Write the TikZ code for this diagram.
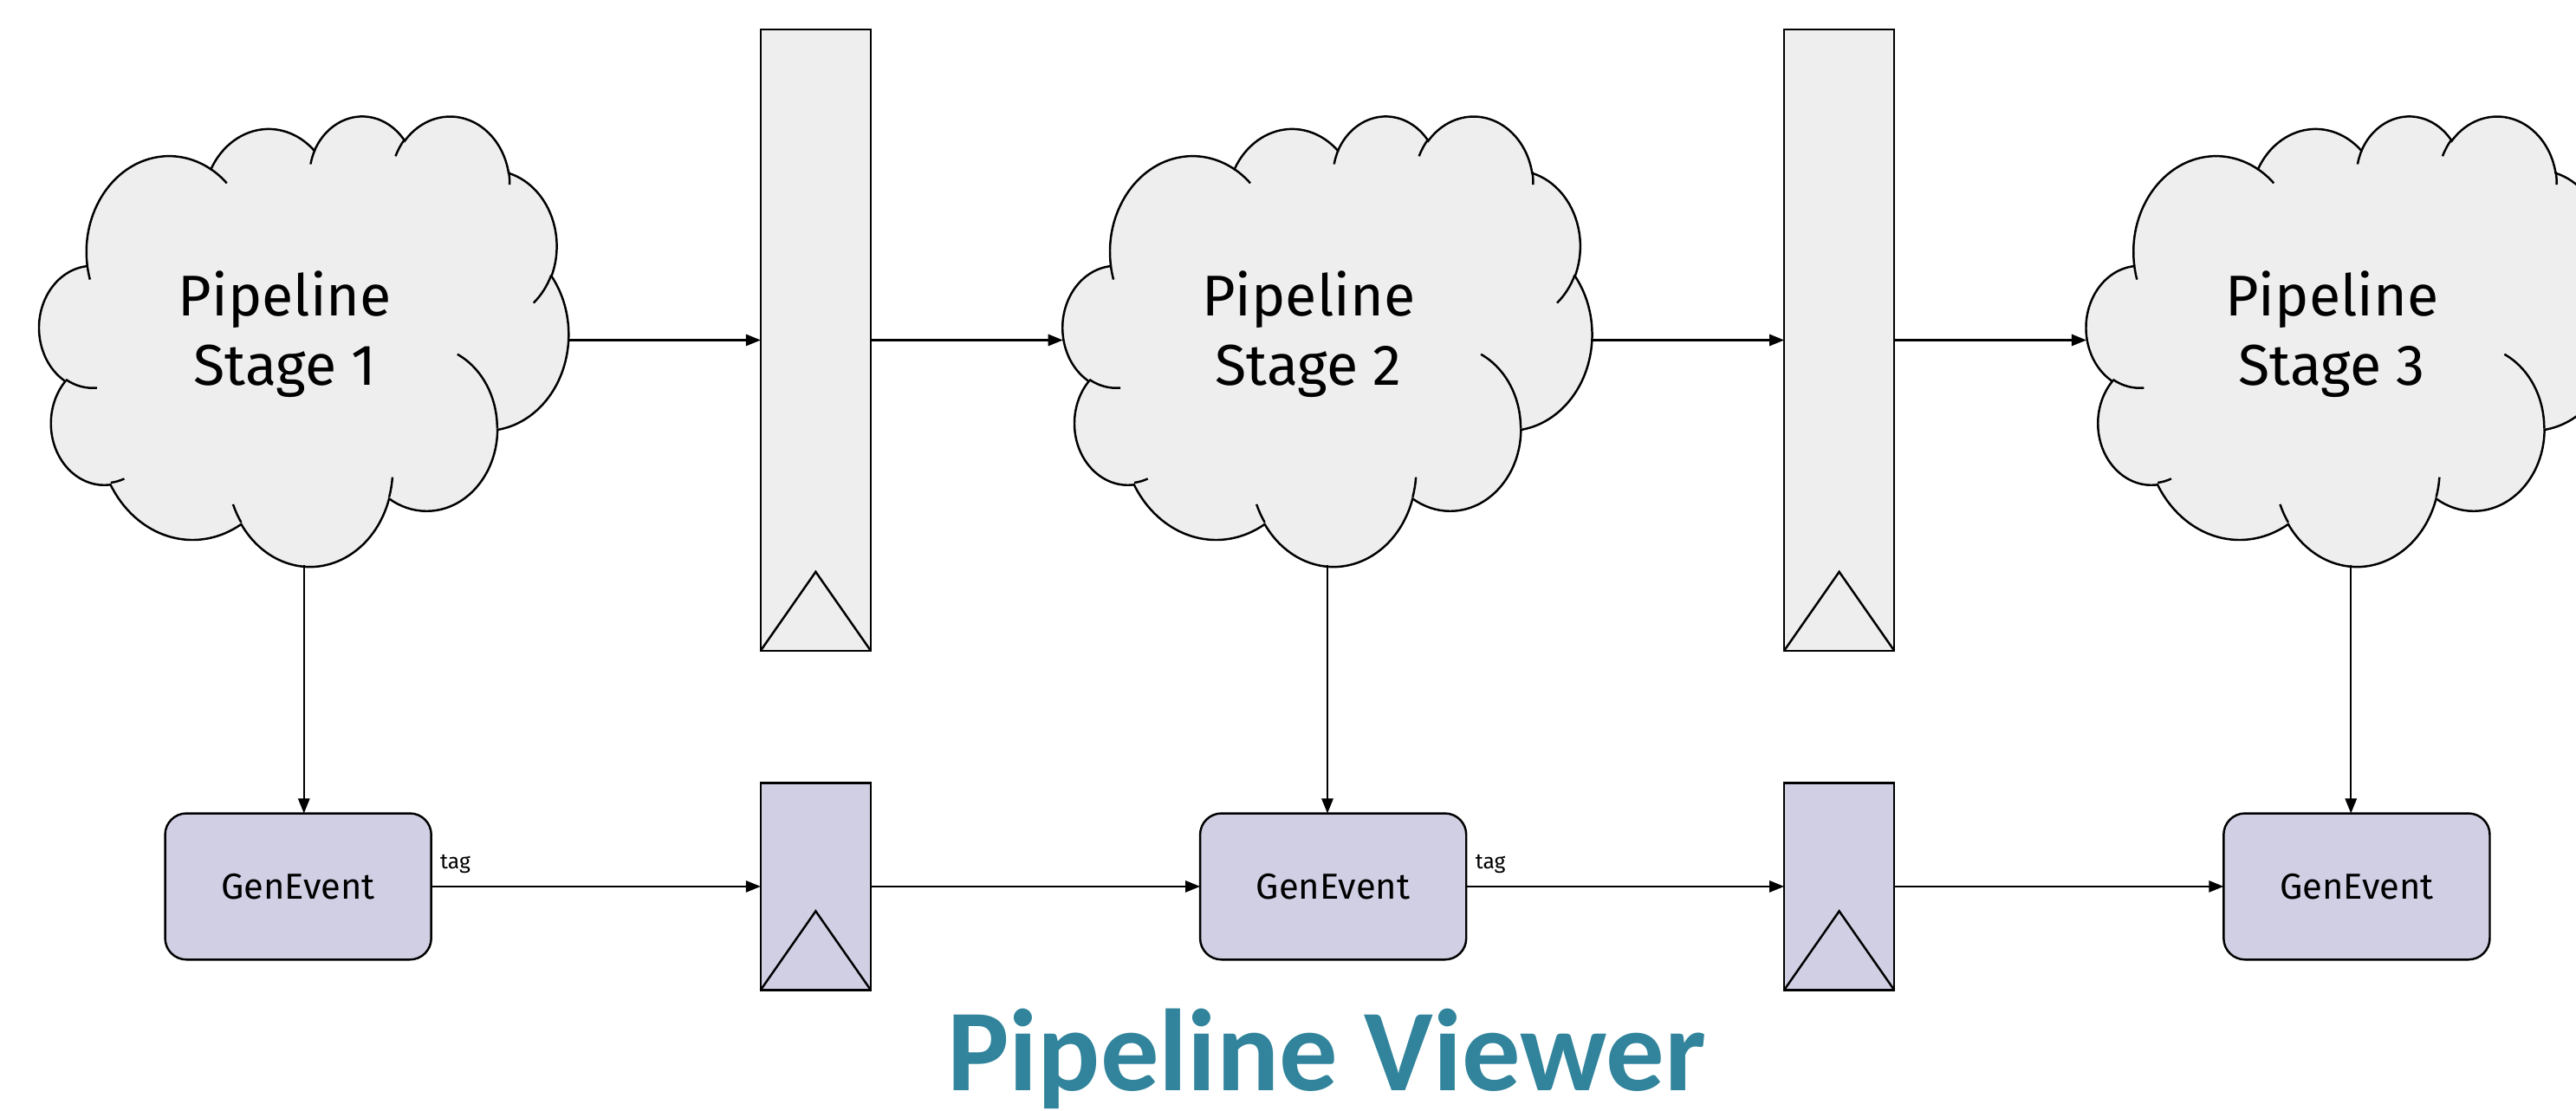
\documentclass[tikz,border=0pt]{standalone}
\usepackage{fontspec}
\usetikzlibrary{positioning,calc,arrows.meta}
\newfontfamily\labelfont{Fira Sans}
\newfontfamily\titlefont{Carlito}
\definecolor{cloudgray}{HTML}{EEEEEE}
\definecolor{genblue}{HTML}{D0CFE4}
\definecolor{titleteal}{HTML}{31849B}

% visual angle -> ellipse parameter
\pgfmathdeclarefunction{vpar}{3}{%
  \begingroup
  \pgfmathparse{atan2(#2*sin(#1),#3*cos(#1))}%
  \pgfmathsmuggle\pgfmathresult
  \endgroup}
% one puff: x radius, y radius, start, sweep
\newcommand\puff[4]{arc[x radius=#1, y radius=#2, start angle={vpar(#3,#1,#2)},
  delta angle={mod(vpar(#3+#4,#1,#2)-vpar(#3,#1,#2)+720,360)}]}

% cloud drawn into the box of a node
\newcommand\stagecloud[1]{%
  \begin{scope}[shift={(#1.north west)}, x=0.74537pt, y=-0.63426pt, line width=1.3pt]
    \draw[fill=cloudgray] (39.00,143.70) \puff{67.53}{91.90}{-190.4875}{123.7805}
      \puff{53.33}{72.67}{-144.1024}{89.9452} \puff{43.65}{59.45}{-145.8079}{99.7230}
      \puff{48.57}{65.95}{-130.9861}{117.2417} \puff{53.33}{72.73}{-78.7089}{109.0269}
      \puff{67.75}{92.20}{-46.2673}{130.2690} \puff{57.85}{78.67}{0.6250}{114.0333}
      \puff{67.52}{92.15}{22.4516}{115.1726} \puff{77.20}{105.43}{66.2426}{75.7110}
      \puff{43.60}{59.18}{-274.9421}{146.7356} \puff{43.45}{59.45}{-246.8285}{152.5189} -- cycle;
    \draw (46.93,261.77) \puff{43.45}{59.45}{86.7420}{26.4295}
      (69.28,348.99) \puff{43.60}{59.18}{73.6105}{11.4475}
      (164.78,390.90) \puff{67.52}{92.15}{137.6242}{14.0811}
      (288.27,347.51) \puff{67.52}{92.15}{6.4533}{15.9984}
      (341.29,229.54) \puff{57.85}{78.67}{-70.2924}{70.9174}
      (417.98,153.54) \puff{53.33}{72.73}{30.3180}{27.7515}
      (383.24,54.26) \puff{48.57}{65.95}{-13.7443}{14.8589}
      (290.78,39.52) \puff{48.57}{65.95}{-149.1815}{18.1954}
      (221.41,47.20) \puff{43.65}{59.45}{-163.4943}{17.6864}
      (140.00,51.92) \puff{67.53}{91.90}{-66.7070}{12.3194}
      (41.27,157.89) \puff{67.53}{91.90}{157.6544}{11.8582};
  \end{scope}}

\begin{document}
\begin{tikzpicture}[x=1pt, y=-1pt,
    stage/.style = {minimum width=322pt, minimum height=274pt, inner sep=0pt, outer sep=0pt},
    stagetext/.style = {align=center, inner sep=0pt, font=\labelfont\fontsize{35}{42}\selectfont},
    reg/.style = {draw, line width=1.3pt, fill=cloudgray, minimum width=67pt, minimum height=378pt, inner sep=0pt, outer sep=0pt},
    lreg/.style = {reg, fill=genblue, minimum height=126pt},
    gen/.style = {draw, line width=1.3pt, fill=genblue, rounded corners=13pt, minimum width=162pt, minimum height=89pt, outer sep=0pt, font=\labelfont\fontsize{22}{26}\selectfont},
    tagtext/.style = {inner sep=0pt, font=\labelfont\fontsize{13}{15}\selectfont},
    flow/.style = {-{Triangle[length=9pt, width=7pt]}, line width=1.1pt}]
    \useasboundingbox (0,0) rectangle (1568,676);
    \clip (0,0) rectangle (1568,676);

    \node[stage] (s1) at (185,207)          {};
    \node[reg]   (r1) [right=117pt of s1]   {};
    \node[stage] (s2) [right=117pt of r1]   {};
    \node[reg]   (r2) [right=117pt of s2]   {};
    \node[stage] (s3) [right=117pt of r2]   {};

    \stagecloud{s1}
    \stagecloud{s2}
    \stagecloud{s3}
    \node[stagetext] (t1) at ($(s1.north west)+(149.5,133.5)$) {Pipeline\\Stage 1};
    \node[stagetext] (t2) at ($(s2.north west)+(149.5,133.5)$) {Pipeline\\Stage 2};
    \node[stagetext] (t3) at ($(s3.north west)+(149.5,133.5)$) {Pipeline\\Stage 3};

    \foreach \r in {r1,r2}
        \draw[line width=1.3pt] (\r.south west) -- ($(\r.south)+(0,-48)$) -- (\r.south east);

    \node[gen] (g1) [below=151pt of s1, xshift=-3.5pt] {GenEvent};
    \node[gen] (g2) [below=151pt of s2, xshift=3.5pt]  {GenEvent};
    \node[gen] (g3) [below=151pt of s3, xshift=3.5pt]  {GenEvent};
    \node[lreg] (q1) at (r1 |- g1) {};
    \node[lreg] (q2) at (r2 |- g2) {};
    \foreach \q in {q1,q2}
        \draw[line width=1.3pt] (\q.south west) -- ($(\q.south)+(0,-48)$) -- (\q.south east);

    \draw[flow] (s1.east) -- (r1.west);
    \draw[flow] (r1.east) -- (s2.west);
    \draw[flow] (s2.east) -- (r2.west);
    \draw[flow] (r2.east) -- (s3.west);

    \draw[flow] (s1.south) -- (s1.south |- g1.north);
    \draw[flow] (s2.south) -- (s2.south |- g2.north);
    \draw[flow] (s3.south) -- (s3.south |- g3.north);

    \draw[flow] (g1.east) -- node[tagtext, pos=0, anchor=base west, xshift=5pt, yshift=11pt] {tag} (q1.west);
    \draw[flow] (q1.east) -- (g2.west);
    \draw[flow] (g2.east) -- node[tagtext, pos=0, anchor=base west, xshift=5pt, yshift=11pt] {tag} (q2.west);
    \draw[flow] (q2.east) -- (g3.west);

    \node[anchor=base, inner sep=0pt, text=titleteal, font=\titlefont\bfseries\fontsize{71}{71}\selectfont] (title) at (807.5,664) {Pipeline Viewer};
\end{tikzpicture}
\end{document}
